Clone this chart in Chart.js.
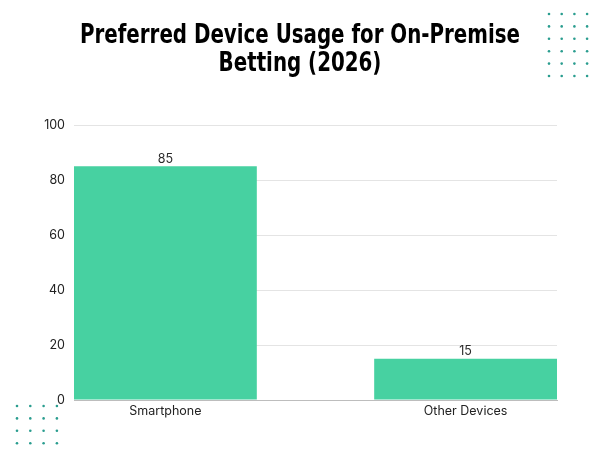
<!DOCTYPE html>
<html>
<head>
<meta charset="utf-8">
<script src="https://cdn.jsdelivr.net/npm/chart.js@4"></script>
<style>
  html, body { margin: 0; padding: 0; background: #fff; }
  #wrap { width: 600px; height: 450px; }
</style>
</head>
<body>
<div id="wrap"><canvas id="deviceChart"></canvas></div>
<script>
// chart data
const categories = ["Smartphone", "Other Devices"];
const usageValues = [85, 15];
const titleLines = ["Preferred Device Usage for On-Premise", "Betting (2026)"];
const yTicks = [0, 20, 40, 60, 80, 100];

const barColor = "#47d1a1";
const dotColor = "#2a9d8f";
const labelFont = "Inter, 'Open Sans', sans-serif";

// value labels above each bar
const valueLabels = {
  id: "valueLabels",
  afterDatasetsDraw(chart) {
    const ctx = chart.ctx;
    ctx.save();
    ctx.font = "12.5px " + labelFont;
    ctx.fillStyle = "#2b2b2b";
    ctx.textAlign = "center";
    ctx.textBaseline = "bottom";
    chart.getDatasetMeta(0).data.forEach((bar, i) => {
      ctx.fillText(String(usageValues[i]), bar.x, bar.y - 1);
    });
    ctx.restore();
  },
};

// condensed two line title, squeezed to the width of the original
const condensedTitle = {
  id: "condensedTitle",
  afterDraw(chart) {
    const ctx = chart.ctx;
    ctx.save();
    ctx.font = "bold 27px 'DejaVu Sans Condensed', 'DejaVu Sans', sans-serif";
    ctx.fillStyle = "#000";
    ctx.textAlign = "center";
    ctx.textBaseline = "alphabetic";
    const w = ctx.measureText(titleLines[0]).width;
    const sx = 440 / w;
    ctx.translate(300, 0);
    ctx.scale(sx, 1);
    ctx.fillText(titleLines[0], 0, 43);
    ctx.fillText(titleLines[1], 0, 71);
    ctx.restore();
  },
};

// decorative dot grids (top right, bottom left)
function dotGrid(ctx, x0, y0, cols, rows, dx, dy) {
  for (let r = 0; r < rows; r++) {
    for (let c = 0; c < cols; c++) {
      ctx.beginPath();
      ctx.arc(x0 + c * dx, y0 + r * dy, 1.3, 0, Math.PI * 2);
      ctx.fill();
    }
  }
}
const decoDots = {
  id: "decoDots",
  afterDraw(chart) {
    const ctx = chart.ctx;
    ctx.save();
    ctx.fillStyle = dotColor;
    dotGrid(ctx, 549, 14, 4, 6, 12.7, 12.4);
    dotGrid(ctx, 17, 406, 4, 4, 13.3, 12.4);
    ctx.restore();
  },
};

const ctx = document.getElementById("deviceChart").getContext("2d");
new Chart(ctx, {
  type: "bar",
  data: {
    labels: categories,
    datasets: [
      {
        label: "Usage",
        data: usageValues,
        backgroundColor: barColor,
        borderWidth: 0,
        categoryPercentage: 1,
        barPercentage: 0.609,
      },
    ],
  },
  options: {
    responsive: true,
    maintainAspectRatio: false,
    animation: false,
    layout: { padding: { left: 0, right: 43, top: 125, bottom: 0 } },
    plugins: {
      legend: { display: false },
      tooltip: { enabled: false },
      title: { display: false },
    },
    scales: {
      x: {
        offset: false,
        grid: { display: false, drawTicks: false },
        border: { display: true, color: "#bdbdbd", width: 1 },
        ticks: {
          color: "#222",
          font: { family: labelFont, size: 12.5 },
          padding: 4,
          maxRotation: 0,
        },
        // widen the category range so the bars sit flush to the plot edges
        afterBuildTicks(axis) {
          axis._startValue = -0.3045;
          axis._valueRange = 1.609;
        },
        afterFit(axis) {
          axis.height = 50;
        },
      },
      y: {
        min: 0,
        max: 100,
        afterBuildTicks(axis) {
          axis.ticks = yTicks.map((v) => ({ value: v }));
        },
        grid: { color: "#e4e4e4", drawTicks: false },
        border: { display: false },
        ticks: {
          color: "#222",
          font: { family: labelFont, size: 12.5 },
          padding: 9,
        },
        afterFit(axis) {
          axis.width = 74;
        },
      },
    },
  },
  plugins: [valueLabels, condensedTitle, decoDots],
});
</script>
</body>
</html>
